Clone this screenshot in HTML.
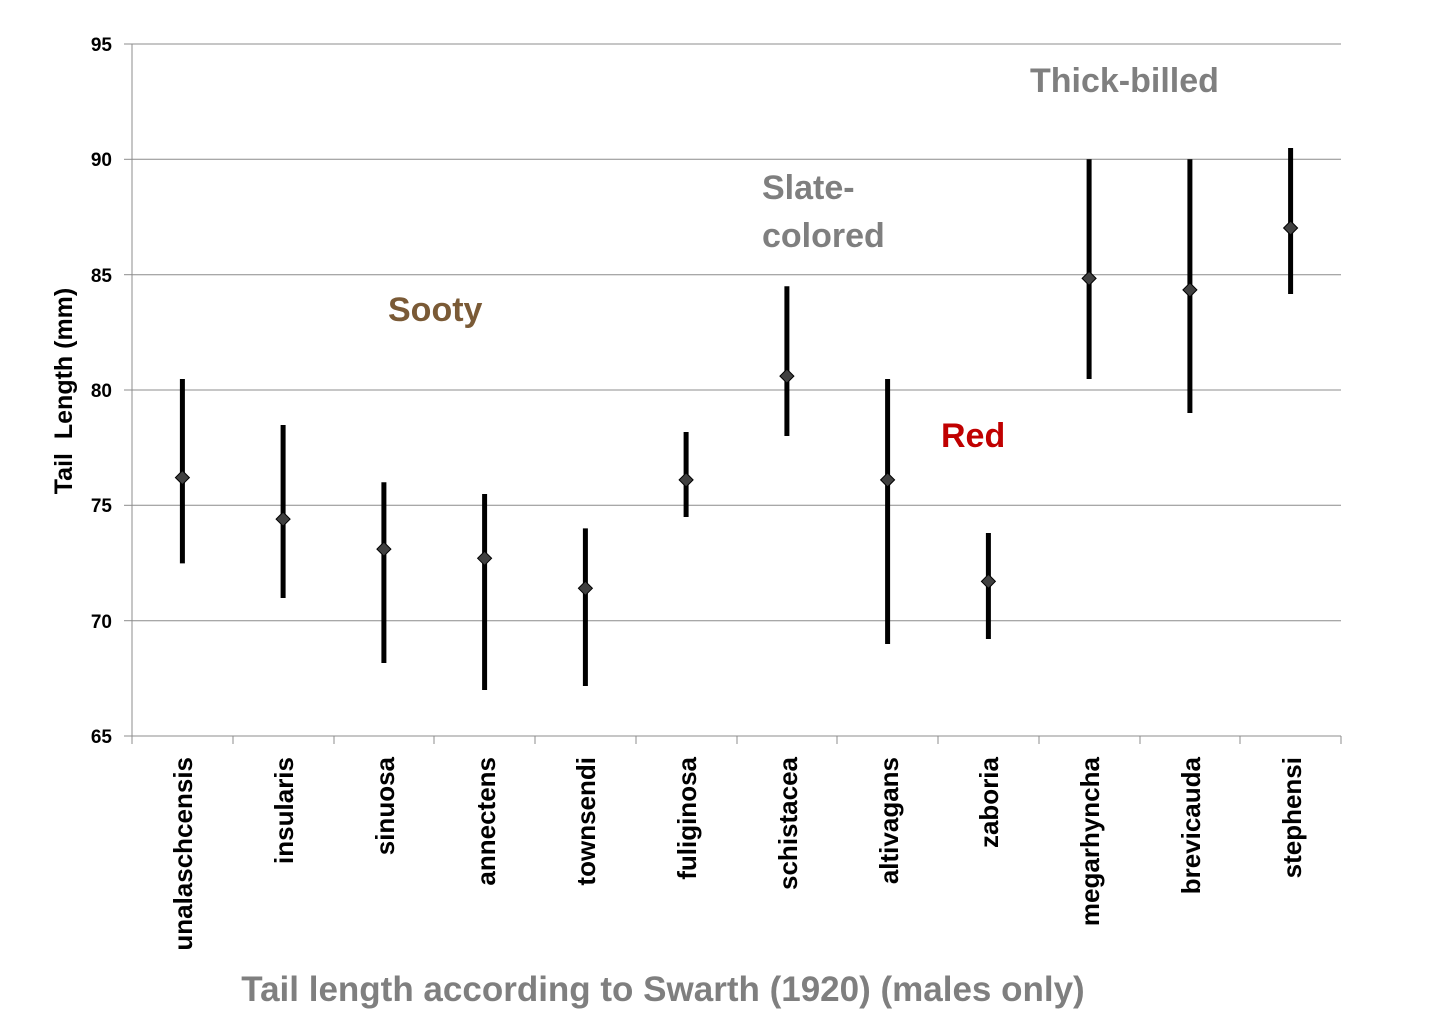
<!DOCTYPE html>
<html><head><meta charset="utf-8"><style>body{margin:0;background:#fff}svg{display:block}</style></head>
<body>
<svg width="1443" height="1025" viewBox="0 0 1443 1025" xmlns="http://www.w3.org/2000/svg" font-family="Liberation Sans, sans-serif" font-weight="bold">
<rect width="1443" height="1025" fill="#fff"/>
<g stroke="#8c8c8c" stroke-width="1">
<line x1="132" y1="44" x2="1341" y2="44"/>
<line x1="132" y1="159.3" x2="1341" y2="159.3"/>
<line x1="132" y1="274.7" x2="1341" y2="274.7"/>
<line x1="132" y1="390" x2="1341" y2="390"/>
<line x1="132" y1="505.3" x2="1341" y2="505.3"/>
<line x1="132" y1="620.7" x2="1341" y2="620.7"/>
<line x1="132" y1="736" x2="1341" y2="736"/>
<line x1="132" y1="44" x2="132" y2="736"/>
<line x1="124" y1="44" x2="132" y2="44"/><line x1="124" y1="159.3" x2="132" y2="159.3"/><line x1="124" y1="274.7" x2="132" y2="274.7"/><line x1="124" y1="390" x2="132" y2="390"/><line x1="124" y1="505.3" x2="132" y2="505.3"/><line x1="124" y1="620.7" x2="132" y2="620.7"/><line x1="124" y1="736" x2="132" y2="736"/>
<line x1="132" y1="736" x2="132" y2="744"/><line x1="233" y1="736" x2="233" y2="744"/><line x1="334" y1="736" x2="334" y2="744"/><line x1="434" y1="736" x2="434" y2="744"/><line x1="535" y1="736" x2="535" y2="744"/><line x1="636" y1="736" x2="636" y2="744"/><line x1="737" y1="736" x2="737" y2="744"/><line x1="837" y1="736" x2="837" y2="744"/><line x1="938" y1="736" x2="938" y2="744"/><line x1="1039" y1="736" x2="1039" y2="744"/><line x1="1140" y1="736" x2="1140" y2="744"/><line x1="1240" y1="736" x2="1240" y2="744"/><line x1="1341" y1="736" x2="1341" y2="744"/>
</g>
<g font-size="19" text-anchor="end" fill="#000">
<text x="112" y="51">95</text><text x="112" y="166">90</text><text x="112" y="282">85</text><text x="112" y="397">80</text><text x="112" y="512">75</text><text x="112" y="628">70</text><text x="112" y="743">65</text>
</g>
<text transform="translate(72,391) rotate(-90)" font-size="25" text-anchor="middle">Tail&#160; Length (mm)</text>
<g stroke="#000" stroke-width="5">
<line x1="182.4" y1="379" x2="182.4" y2="563.4"/>
<line x1="283.1" y1="425" x2="283.1" y2="598"/>
<line x1="383.9" y1="482.3" x2="383.9" y2="663"/>
<line x1="484.6" y1="494" x2="484.6" y2="690"/>
<line x1="585.4" y1="528.4" x2="585.4" y2="686"/>
<line x1="686.1" y1="432" x2="686.1" y2="517"/>
<line x1="786.9" y1="286.3" x2="786.9" y2="436"/>
<line x1="887.6" y1="379" x2="887.6" y2="644"/>
<line x1="988.4" y1="533" x2="988.4" y2="639"/>
<line x1="1089.1" y1="159.3" x2="1089.1" y2="379"/>
<line x1="1189.9" y1="159.3" x2="1189.9" y2="413"/>
<line x1="1290.6" y1="148" x2="1290.6" y2="294"/>
</g>
<g fill="#404040" stroke="#000" stroke-width="1">
<path d="M182.4 470.6l7 7-7 7-7-7z"/>
<path d="M283.1 512.1l7 7-7 7-7-7z"/>
<path d="M383.9 542.1l7 7-7 7-7-7z"/>
<path d="M484.6 551.3l7 7-7 7-7-7z"/>
<path d="M585.4 581.3l7 7-7 7-7-7z"/>
<path d="M686.1 472.9l7 7-7 7-7-7z"/>
<path d="M786.9 369.1l7 7-7 7-7-7z"/>
<path d="M887.6 472.9l7 7-7 7-7-7z"/>
<path d="M988.4 574.4l7 7-7 7-7-7z"/>
<path d="M1089.1 271.4l7 7-7 7-7-7z"/>
<path d="M1189.9 282.9l7 7-7 7-7-7z"/>
<path d="M1290.6 221l7 7-7 7-7-7z"/>
</g>
<g font-size="26" text-anchor="end" fill="#000">
<text transform="translate(192,757) rotate(-90)">unalaschcensis</text>
<text transform="translate(293,757) rotate(-90)">insularis</text>
<text transform="translate(394,757) rotate(-90)">sinuosa</text>
<text transform="translate(495,757) rotate(-90)">annectens</text>
<text transform="translate(595,757) rotate(-90)">townsendi</text>
<text transform="translate(696,757) rotate(-90)">fuliginosa</text>
<text transform="translate(797,757) rotate(-90)">schistacea</text>
<text transform="translate(898,757) rotate(-90)">altivagans</text>
<text transform="translate(998,757) rotate(-90)">zaboria</text>
<text transform="translate(1099,757) rotate(-90)">megarhyncha</text>
<text transform="translate(1200,757) rotate(-90)">brevicauda</text>
<text transform="translate(1301,757) rotate(-90)">stephensi</text>
</g>
<g font-size="34">
<text x="1030" y="92" fill="#7f7f7f">Thick-billed</text>
<text x="762" y="199" fill="#7f7f7f">Slate-</text>
<text x="762" y="247" fill="#7f7f7f">colored</text>
<text x="388" y="321" fill="#7a5a36">Sooty</text>
<text x="941" y="447" fill="#c00000">Red</text>
<text x="663" y="1001" text-anchor="middle" fill="#7f7f7f" font-size="35">Tail length according to Swarth (1920) (males only)</text>
</g>
</svg>
</body></html>
